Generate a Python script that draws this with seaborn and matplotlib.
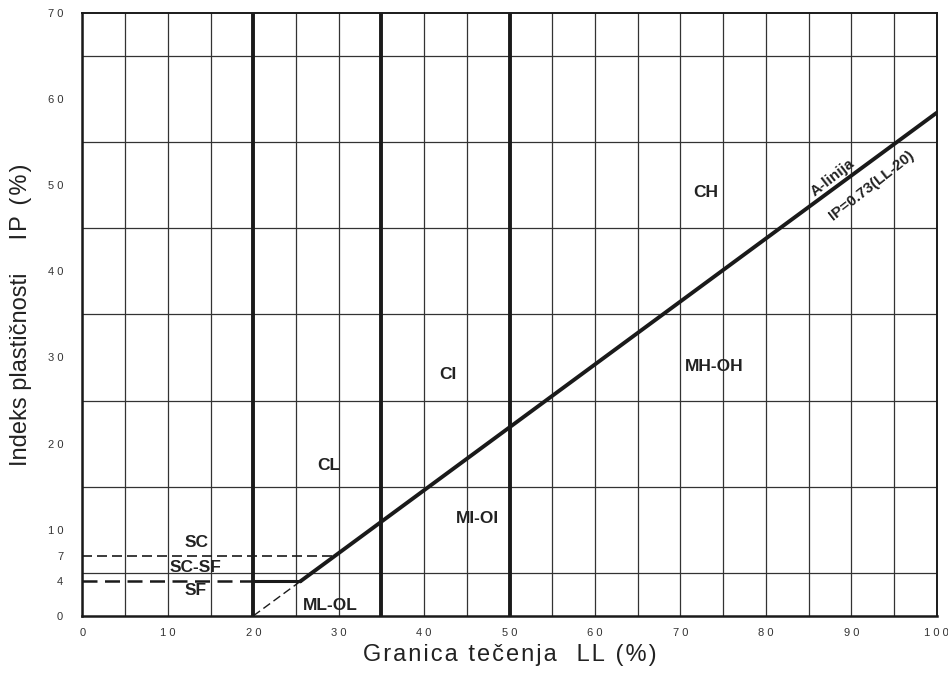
import matplotlib
matplotlib.use("Agg")
import matplotlib.pyplot as plt
import seaborn as sns
import numpy as np

# ---------------------------------------------------------
# DATA
# ---------------------------------------------------------
a_line_ll = [25.5, 100.0]
a_line_ip = [4.0, 58.4]

base_ll = [20.0, 25.5]          # solid step at IP = 4
base_ip = [4.0, 4.0]

dash_diag_ll = [20.0, 25.5]     # thin dashed toe of A-line
dash_diag_ip = [0.0, 4.0]

dash7_ll = [0.0, 29.6]
dash7_ip = [7.0, 7.0]
dash4_ll = [0.0, 20.0]
dash4_ip = [4.0, 4.0]

vertical_ll = [20, 35, 50]
vertical_ip = [0, 70]

zone_names = ["SC", "SC-SF", "SF", "ML-OL", "CL", "CI", "MI-OI", "CH", "MH-OH"]
zone_ll = [13.3, 13.2, 13.2, 29.0, 28.8, 42.8, 46.2, 73.0, 73.9]
zone_ip = [8.5, 5.6, 2.9, 1.2, 17.4, 28.0, 11.3, 49.2, 29.0]

x_ticks = [0, 10, 20, 30, 40, 50, 60, 70, 80, 90, 100]
y_ticks = [0, 4, 7, 10, 20, 30, 40, 50, 60, 70]

INK = "#1a1a1a"
HAIR = "\u200a"


def spaced(v):
    return " ".join(str(v))


def line(x, y, **kw):
    sns.lineplot(x=x, y=y, color=INK, estimator=None, sort=False, ax=ax, **kw)


sns.set_theme(style="white")
plt.rcParams["font.family"] = ["Liberation Sans", "DejaVu Sans"]

fig, ax = plt.subplots(figsize=(9.48, 6.79), dpi=100)
fig.subplots_adjust(left=0.087, right=0.988, top=0.981, bottom=0.093)

# grid every 5 units
ax.set_xticks(np.arange(0, 101, 5), minor=True)
ax.set_yticks(np.arange(0, 71, 5), minor=True)
ax.set_xticks(x_ticks)
ax.set_yticks(y_ticks)
ax.set_xticklabels([spaced(v) for v in x_ticks], fontsize=8, color="#333333")
ax.set_yticklabels([spaced(v) for v in y_ticks], fontsize=8, color="#333333")
ax.grid(which="minor", color="#333333", linewidth=0.9)
ax.grid(which="major", visible=False)
ax.grid(which="major", axis="x", visible=True, color="#333333", linewidth=0.9)
ax.tick_params(which="both", length=0)
ax.tick_params(axis="x", pad=9)
ax.tick_params(axis="y", pad=14)
ax.set_axisbelow(True)

# vertical boundaries
for ll in vertical_ll:
    line([ll, ll], vertical_ip, linewidth=2.8)

# A-line and base
line(a_line_ll, a_line_ip, linewidth=2.8)
line(base_ll, base_ip, linewidth=2.2)
line(dash_diag_ll, dash_diag_ip, linewidth=1.0, linestyle=(0, (6, 3)))
line(dash7_ll, dash7_ip, linewidth=1.2, linestyle=(0, (6, 3)))
line(dash4_ll, dash4_ip, linewidth=1.8, linestyle=(0, (6, 3)))

# zone labels
for name, x, y in zip(zone_names, zone_ll, zone_ip):
    ax.text(x, y, name, ha="center", va="center", fontsize=12.5,
            fontweight="bold", color="#222222")

ax.text(87.8, 50.9, "A-linija", ha="center", va="center", fontsize=11,
        fontweight="bold", color="#222222", rotation=38,
        rotation_mode="anchor")
ax.text(92.4, 50.0, "IP=0.73(LL-20)", ha="center", va="center", fontsize=11,
        fontweight="bold", color="#222222", rotation=38,
        rotation_mode="anchor")

ax.set_xlim(0, 100)
ax.set_ylim(0, 70)
xlab = HAIR.join("Granica tečenja") + "   " + HAIR.join("LL (%)")
ax.set_xlabel(xlab, fontsize=17, color="#222222", labelpad=4)
ylab = "Indeks plastičnosti" + "     " + HAIR.join("IP (%)")
ax.set_ylabel(ylab, fontsize=17, color="#222222", labelpad=11)

for side in ["left", "bottom"]:
    ax.spines[side].set_color(INK)
    ax.spines[side].set_linewidth(1.8)
for side in ["top", "right"]:
    ax.spines[side].set_color(INK)
    ax.spines[side].set_linewidth(1.4)

fig.savefig("out.png", dpi=100)
plt.close(fig)
